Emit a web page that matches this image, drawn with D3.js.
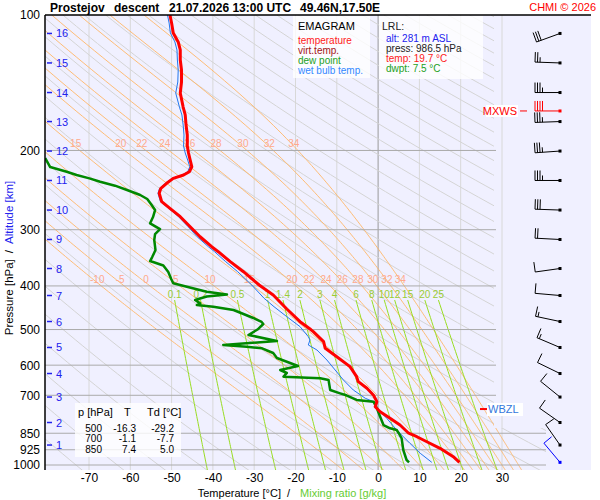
<!DOCTYPE html>
<html>
<head>
<meta charset="utf-8">
<script src="https://cdn.jsdelivr.net/npm/d3@7"></script>
<style>
  body { margin: 0; background: #fff; }
  svg text { font-family: "Liberation Sans", Arial, sans-serif; }
</style>
</head>
<body>
<svg id="chart"></svg>
<script>
// ---------- data read off the sounding ----------
// [pressure hPa, temperature C]
var temperature = [[100,-50.4],[104.2,-50.0],[109.6,-49.6],[114.8,-48.4],[119.6,-47.9],[125.9,-47.9],[132.5,-47.6],
  [140.9,-47.6],[149.1,-47.9],[160.2,-47.2],[166.8,-46.7],[175.6,-46.5],[184.8,-46.2],[195.5,-46.2],[202.6,-45.9],
  [210.1,-45.5],[217.4,-45.1],[223.0,-45.7],[226.8,-47.1],[230.7,-49.6],[236.6,-51.2],[242.7,-52.6],[249.0,-53.0],
  [259.9,-52.4],[268.9,-50.4],[280.7,-47.9],[295.4,-45.5],[311.0,-43.1],[327.3,-40.3],[335.7,-38.7],[353.3,-35.8],
  [371.9,-32.6],[398.1,-28.8],[419.0,-25.4],[450.2,-22.1],[480.3,-18.9],[500,-16.3],[505.5,-15.7],[532.1,-13.2],
  [550.4,-12.8],[574.5,-10.0],[604.6,-6.8],[636.4,-5.2],[652.9,-4.8],[675.4,-2.7],[700,-1.1],[723.2,-0.3],
  [742.0,-0.7],[761.3,0.5],[787.5,2.9],[815.0,5.3],[850,7.4],[865.3,9.4],[887.7,11.8],[918.2,15.0],[958.5,18.2],
  [986.5,19.7]];

var wetBulb = [[100,-51.0],[104.2,-50.6],[109.6,-50.3],[114.8,-49.2],[119.6,-48.7],[125.9,-48.6],[132.5,-48.4],
  [140.9,-48.5],[149.1,-49.0],[160.2,-48.1],[166.8,-47.5],[175.6,-47.2],[184.8,-47.0],[195.5,-47.1],[202.6,-46.7],
  [210.1,-46.1],[217.4,-45.6],[223.0,-46.1],[226.8,-47.5],[230.7,-49.9],[236.6,-51.5],[242.7,-52.9],[249.0,-53.3],
  [259.9,-52.7],[268.9,-50.7],[280.7,-48.3],[295.4,-46.0],[311.0,-43.8],[327.3,-41.1],[335.7,-39.6],[353.3,-36.9],
  [371.9,-34.0],[398.1,-30.6],[426.2,-27.6],[444.9,-25.2],[468.2,-22.1],[492.7,-18.9],[518.6,-16.9],[527.4,-16.5],
  [541.1,-16.9],[555.2,-14.8],[584.4,-12.4],[615.0,-10.4],[647.3,-8.4],[681.3,-6.0],[710.8,-3.1],[723.2,-1.1],
  [754.7,0.1],[787.5,2.1],[836.1,4.5],[894.8,7.7],[941.8,10.2],[986.5,13.0]];

var dewPoint = [[207.9,-80.6],[217.7,-79.4],[223.0,-75.4],[226.8,-73.0],[230.7,-69.9],[234.7,-67.3],[239.5,-63.7],
  [244.8,-60.8],[251.2,-57.6],[256.4,-55.9],[263.0,-55.0],[271.3,-54.0],[281.2,-54.5],[290.4,-55.2],[299.0,-52.8],
  [306.7,-54.0],[316.2,-54.2],[332.9,-53.9],[345.1,-54.7],[352.2,-55.2],[360.4,-52.0],[372.5,-50.8],[386.1,-50.1],
  [394.7,-49.6],[401.7,-46.3],[412.1,-41.5],[418.0,-36.6],[422.3,-41.5],[429.9,-44.3],[437.3,-43.1],[441.0,-43.9],
  [444.9,-39.9],[452.5,-35.0],[471.3,-30.2],[481.0,-28.2],[486.0,-27.8],[500,-29.2],[514.1,-31.4],[530.2,-24.5],
  [541.1,-37.5],[545.9,-31.8],[550.4,-28.1],[563.8,-25.4],[578.5,-24.5],[589.5,-22.1],[602.6,-19.4],[615.0,-23.7],
  [624.5,-22.1],[636.4,-22.9],[641.6,-14.0],[647.3,-12.0],[681.3,-11.6],[693.0,-9.2],[700,-7.7],[717.0,-5.2],
  [723.2,-1.1],[748.2,-0.3],[781.1,0.5],[815.0,1.3],[828.9,2.9],[836.1,4.5],[850,5.0],[872.5,5.7],[926.2,6.1],
  [974.8,6.9],[986.5,7.5]];

// axis ticks
var pressureTicks = [100, 200, 300, 400, 500, 600, 700, 850, 925, 1000];
var tempTicks = [-70, -60, -50, -40, -30, -20, -10, 0, 10, 20, 30];

// altitude levels (km) and the pressure where they sit
var altKm = [1, 2, 3, 4, 5, 6, 7, 8, 9, 10, 11, 12, 13, 14, 15, 16];
var altP = [902.9, 804.6, 706.3, 626.2, 548.1, 479.9, 420.1, 365.9, 315.4, 271.3, 233.2, 200.6, 172.5, 148.7, 127.8, 109.9];

// wind at those levels (direction deg, speed kt)
var windDir = [325, 305, 309, 296, 293, 282, 275, 262, 273, 272, 270, 266, 268, 270, 272, 250];
var windSpd = [10, 10, 10, 10, 15, 15, 10, 10, 20, 30, 35, 35, 35, 35, 25, 30];
var surfaceWind = [986.5, 320, 10];   // p, dir, speed
var maxWind = [163.4, 270, 40];       // p, dir, speed
var wbzlP = 751;

// background line families
var mixingRatios = [0.1, 0.2, 0.5, 1, 1.4, 2, 3, 4, 6, 8, 10, 12, 15, 20, 25];
var moistThetaW = [-10, -5, 0, 5, 10, 15, 20, 22, 24, 26, 28, 30, 32, 34];
var dryTheta = d3.range(200, 600, 10);

// table values
var tableP = [500, 700, 850];
var tableT = ["-16.3", "-1.1", "7.4"];
var tableTd = ["-29.2", "-7.7", "5.0"];

// ---------- setup ----------
var width = 600, height = 500;
var svg = d3.select("#chart").attr("width", width).attr("height", height);

var plot = {left: 45, top: 15, right: 591, bottom: 470};

var x = d3.scaleLinear().domain([-70, 30]).range([89, 502]);
var y = d3.scaleLog().domain([100, 1000]).range([15, 465]);

var line = d3.line()
  .x(function (d) { return x(d[1]); })
  .y(function (d) { return y(d[0]); });

// plot background
svg.append("rect")
  .attr("x", plot.left).attr("y", plot.top)
  .attr("width", plot.right - plot.left).attr("height", plot.bottom - plot.top)
  .attr("fill", "#f0f0ff");

var defs = svg.append("defs");
defs.append("clipPath").attr("id", "clipLines")
  .append("path").attr("d", "M45,15H494V428H546V470H45Z");
defs.append("clipPath").attr("id", "clipPlot")
  .append("rect").attr("x", plot.left).attr("y", plot.top)
  .attr("width", plot.right - plot.left).attr("height", plot.bottom - plot.top);

// isotherms
svg.append("g").selectAll("line")
  .data(tempTicks).enter().append("line")
  .attr("x1", function (d) { return x(d); }).attr("x2", function (d) { return x(d); })
  .attr("y1", plot.top).attr("y2", plot.bottom)
  .attr("stroke", function (d) { return d == 0 ? "#999" : "#d8d8d8"; })
  .attr("stroke-width", 1);

var bg = svg.append("g").attr("clip-path", "url(#clipLines)");

// dry adiabats
var pSamples = d3.range(0, 81).map(function (i) { return 100 * Math.pow(10.3, i / 80); });
bg.append("g").selectAll("path")
  .data(dryTheta).enter().append("path")
  .attr("d", function (th) {
    return line(pSamples.map(function (p) { return [p, th * Math.pow(p / 1000, 0.2857) - 273.15]; }));
  })
  .attr("fill", "none").attr("stroke", "#d4d4d4").attr("stroke-width", 1);

// pseudo-adiabats
function satVap(tc) { return 6.112 * Math.exp(17.67 * tc / (tc + 243.5)); }
function moistLapse(p, tk) {
  var Rd = 287.04, cp = 1005.7, L = 2.501e6, eps = 0.622;
  var es = satVap(tk - 273.15), rs = eps * es / (p - es);
  return (Rd * tk + L * rs) / p / (cp + L * L * rs * eps / (Rd * tk * tk));
}
function pseudoAdiabat(tw) {
  var dp = 4, p = 1000, T = tw + 273.15, up = [], down = [];
  while (p > 100) {
    up.push([p, T - 273.15]);
    var k1 = moistLapse(p, T);
    var k2 = moistLapse(p - dp / 2, T - k1 * dp / 2);
    T -= k2 * dp; p -= dp;
  }
  up.push([p, T - 273.15]);
  p = 1000; T = tw + 273.15;
  while (p < 1030) { T += moistLapse(p, T) * dp; p += dp; down.push([p, T - 273.15]); }
  return down.reverse().concat(up);
}
var moistLines = moistThetaW.map(function (tw) { return {tw: tw, pts: pseudoAdiabat(tw)}; });
bg.append("g").selectAll("path")
  .data(moistLines).enter().append("path")
  .attr("d", function (d) { return line(d.pts); })
  .attr("fill", "none").attr("stroke", "#ffb766").attr("stroke-width", 0.9);

// mixing ratio lines
function mixingT(w, p) {
  var e = w * p / (622 + w), l = Math.log(e / 6.112);
  return 243.5 * l / (17.67 - l);
}
var mixTop = 430;
var mixP = d3.range(mixTop, 1031, 10);
bg.append("g").selectAll("path")
  .data(mixingRatios).enter().append("path")
  .attr("d", function (w) { return line(mixP.map(function (p) { return [p, mixingT(w, p)]; })); })
  .attr("fill", "none").attr("stroke", "#99dd22").attr("stroke-width", 1);

// isobars
svg.append("g").selectAll("line")
  .data(pressureTicks.slice(1)).enter().append("line")
  .attr("x1", plot.left)
  .attr("x2", function (d) { return d >= 850 ? 546 : 496; })
  .attr("y1", function (d) { return y(d); }).attr("y2", function (d) { return y(d); })
  .attr("stroke", "#aaa").attr("stroke-width", 1);

// pseudo-adiabat labels at 200 and 400 hPa
function tempAt(pts, p) {
  for (var i = 0; i < pts.length - 1; i++) {
    var a = pts[i], b = pts[i + 1];
    if ((a[0] - p) * (b[0] - p) <= 0) return a[1] + (b[1] - a[1]) * (p - a[0]) / (b[0] - a[0]);
  }
  return null;
}
var moistLabels = [];
[200, 400].forEach(function (lp) {
  moistLines.forEach(function (d) {
    var t = tempAt(d.pts, lp);
    if (t !== null && x(t) > 55 && x(t) < 490) moistLabels.push({p: lp, t: t, tw: d.tw});
  });
});
svg.append("g").selectAll("text")
  .data(moistLabels).enter().append("text")
  .attr("x", function (d) { return x(d.t) - 4; })
  .attr("y", function (d) { return y(d.p) - 3; })
  .attr("text-anchor", "middle")
  .style("font-size", "10px").attr("fill", "#ffa98c")
  .text(function (d) { return d.tw; });

// mixing ratio labels
svg.append("g").selectAll("text")
  .data(mixingRatios).enter().append("text")
  .attr("x", function (w) { return x(mixingT(w, mixTop)); })
  .attr("y", y(mixTop) - 2)
  .attr("text-anchor", "middle")
  .style("font-size", "10px").attr("fill", "#99cc33")
  .text(function (w) { return w; });

// ---------- profiles ----------
var prof = svg.append("g").attr("clip-path", "url(#clipPlot)");
prof.append("path").datum(wetBulb).attr("d", line)
  .attr("fill", "none").attr("stroke", "#2277ee").attr("stroke-width", 1);
prof.append("path").datum(dewPoint).attr("d", line)
  .attr("fill", "none").attr("stroke", "#008800").attr("stroke-width", 2.5)
  .attr("stroke-linejoin", "round");
prof.append("path").datum(temperature).attr("d", line)
  .attr("fill", "none").attr("stroke", "#ff0000").attr("stroke-width", 3)
  .attr("stroke-linejoin", "round");

// ---------- legend boxes ----------
svg.append("rect").attr("x", 293).attr("y", 16).attr("width", 77).attr("height", 62)
  .attr("fill", "#fff").attr("fill-opacity", 0.8);
svg.append("text").attr("x", 298).attr("y", 30).style("font-size", "11px").text("EMAGRAM");
var legendItems = [["temperature", "#ff1a1a"], ["virt.temp.", "#a31515"], ["dew point", "#22a022"], ["wet bulb temp.", "#3388ff"]];
svg.append("g").selectAll("text")
  .data(legendItems).enter().append("text")
  .attr("x", 298).attr("y", function (d, i) { return 44 + i * 10; })
  .style("font-size", "10px").attr("fill", function (d) { return d[1]; })
  .text(function (d) { return d[0]; });

svg.append("rect").attr("x", 379).attr("y", 16).attr("width", 104).attr("height", 63)
  .attr("fill", "#fff").attr("fill-opacity", 0.8);
svg.append("text").attr("x", 382).attr("y", 30).style("font-size", "10.5px").attr("fill", "#222").text("LRL:");
var lrlItems = [["alt: 281 m ASL", "#2222ee"], ["press: 986.5 hPa", "#222"], ["temp: 19.7 °C", "#ff1a1a"], ["dwpt: 7.5 °C", "#22a022"]];
svg.append("g").selectAll("text")
  .data(lrlItems).enter().append("text")
  .attr("x", 386).attr("y", function (d, i) { return 42 + i * 10; })
  .style("font-size", "10px").attr("fill", function (d) { return d[1]; })
  .text(function (d) { return d[0]; });

// table of standard levels
svg.append("rect").attr("x", 75).attr("y", 403).attr("width", 106).attr("height", 54)
  .attr("fill", "#fff").attr("fill-opacity", 0.8);
var th = svg.append("g").style("font-size", "11px");
th.append("text").attr("x", 78).attr("y", 416).text("p [hPa]");
th.append("text").attr("x", 124).attr("y", 416).text("T");
th.append("text").attr("x", 147).attr("y", 416).text("Td [°C]");
var rows = svg.append("g").style("font-size", "10px").attr("text-anchor", "end");
tableP.forEach(function (p, i) {
  var ry = 431.5 + i * 10.5;
  rows.append("text").attr("x", 102).attr("y", ry).text(p);
  rows.append("text").attr("x", 136).attr("y", ry).text(tableT[i]);
  rows.append("text").attr("x", 174).attr("y", ry).text(tableTd[i]);
});

// WBZL marker
var wy = y(wbzlP);
svg.append("line").attr("x1", 480).attr("x2", 487).attr("y1", wy).attr("y2", wy)
  .attr("stroke", "#ff0000").attr("stroke-width", 2);
svg.append("rect").attr("x", 487).attr("y", wy - 6).attr("width", 36).attr("height", 13).attr("fill", "#fff");
svg.append("text").attr("x", 488).attr("y", wy + 4).style("font-size", "11px").attr("fill", "#3377dd").text("WBZL");

// ---------- wind barbs ----------
var windX = 560;
function drawBarb(p, dir, spd, color) {
  var g = svg.append("g").attr("stroke", color).attr("fill", "none").attr("stroke-width", 1);
  var cx = windX, cy = y(p), L = 25;
  var a = dir * Math.PI / 180;
  var ux = Math.sin(a), uy = -Math.cos(a);
  var bx = -uy, by = ux;
  g.append("line").attr("x1", cx).attr("y1", cy).attr("x2", cx + ux * L).attr("y2", cy + uy * L);
  var full = Math.floor(spd / 10), half = (spd % 10) >= 5 ? 1 : 0;
  var feathers = [];
  for (var i = 0; i < full; i++) feathers.push(10);
  if (half) feathers.push(5);
  feathers.forEach(function (len, i) {
    var s = L - i * 2.5;
    var x0 = cx + ux * s, y0 = cy + uy * s;
    g.append("line").attr("x1", x0).attr("y1", y0).attr("x2", x0 + bx * len).attr("y2", y0 + by * len);
  });
  svg.append("rect").attr("x", cx - 1.5).attr("y", cy - 1.5).attr("width", 3).attr("height", 3).attr("fill", color);
}
altKm.forEach(function (k, i) { drawBarb(altP[i], windDir[i], windSpd[i], "#000"); });
drawBarb(surfaceWind[0], surfaceWind[1], surfaceWind[2], "#0000ff");
drawBarb(maxWind[0], maxWind[1], maxWind[2], "#ff0000");

var my = y(maxWind[0]);
svg.append("rect").attr("x", 486).attr("y", my - 6).attr("width", 32).attr("height", 12).attr("fill", "#fff");
svg.append("text").attr("x", 517).attr("y", my + 4).attr("text-anchor", "end")
  .style("font-size", "11px").attr("fill", "#ff0000").text("MXWS");
svg.append("line").attr("x1", 520).attr("x2", 527).attr("y1", my).attr("y2", my).attr("stroke", "#ff0000");

// ---------- axes ----------
var yAxis = d3.axisLeft(y).tickValues(pressureTicks).tickSize(0).tickPadding(5)
  .tickFormat(function (d) { return String(d); });
var gy = svg.append("g").attr("transform", "translate(" + plot.left + ",0)").call(yAxis);
gy.select(".domain").remove();
gy.selectAll("text").style("font-size", "12px").style("font-family", '"Liberation Sans", Arial, sans-serif').attr("fill", "#000");

var xAxis = d3.axisBottom(x).tickValues(tempTicks).tickSize(0).tickPadding(3)
  .tickFormat(function (d) { return String(d); });
var gx = svg.append("g").attr("transform", "translate(0," + plot.bottom + ")").call(xAxis);
gx.select(".domain").remove();
gx.selectAll("text").style("font-size", "12px").style("font-family", '"Liberation Sans", Arial, sans-serif').attr("fill", "#000");

// altitude ticks
var alt = svg.append("g");
alt.selectAll("line").data(altKm).enter().append("line")
  .attr("x1", 47).attr("x2", 52)
  .attr("y1", function (d, i) { return y(altP[i]); }).attr("y2", function (d, i) { return y(altP[i]); })
  .attr("stroke", "#2222ee").attr("stroke-width", 1.5);
alt.selectAll("text").data(altKm).enter().append("text")
  .attr("x", 56).attr("y", function (d, i) { return y(altP[i]) + 4; })
  .style("font-size", "11px").attr("fill", "#2222ee")
  .text(function (d) { return d; });

// frame
svg.append("line").attr("x1", plot.left).attr("x2", plot.left).attr("y1", plot.top).attr("y2", plot.bottom)
  .attr("stroke", "#000").attr("stroke-width", 1.5);
svg.append("line").attr("x1", plot.left).attr("x2", plot.right).attr("y1", plot.top).attr("y2", plot.top)
  .attr("stroke", "#000").attr("stroke-width", 1.5);

// axis titles
var yt = svg.append("text")
  .attr("transform", "translate(13,258) rotate(-90)")
  .attr("text-anchor", "middle").style("font-size", "11.5px");
yt.append("tspan").attr("fill", "#000").text("Pressure [hPa]");
yt.append("tspan").attr("dx", 6).attr("fill", "#000").text("/");
yt.append("tspan").attr("dx", 6).attr("fill", "#2222ee").text("Altitude [km]");

var xt = svg.append("text").attr("x", 292).attr("y", 497)
  .attr("text-anchor", "middle").style("font-size", "11px");
xt.append("tspan").attr("fill", "#000").text("Temperature [°C]");
xt.append("tspan").attr("dx", 6).attr("fill", "#000").text("/");
xt.append("tspan").attr("dx", 10).attr("fill", "#66cc33").text("Mixing ratio [g/kg]");

// title
var title = svg.append("g").style("font-size", "12px").style("font-weight", "bold");
title.append("text").attr("x", 50).attr("y", 12).text("Prostejov");
title.append("text").attr("x", 114).attr("y", 12).text("descent");
title.append("text").attr("x", 169).attr("y", 12).text("21.07.2026 13:00 UTC");
title.append("text").attr("x", 300).attr("y", 12).text("49.46N,17.50E");
svg.append("text").attr("x", 596).attr("y", 11).attr("text-anchor", "end")
  .style("font-size", "11px").attr("fill", "#ff0000").text("CHMI © 2026");
</script>
</body>
</html>
